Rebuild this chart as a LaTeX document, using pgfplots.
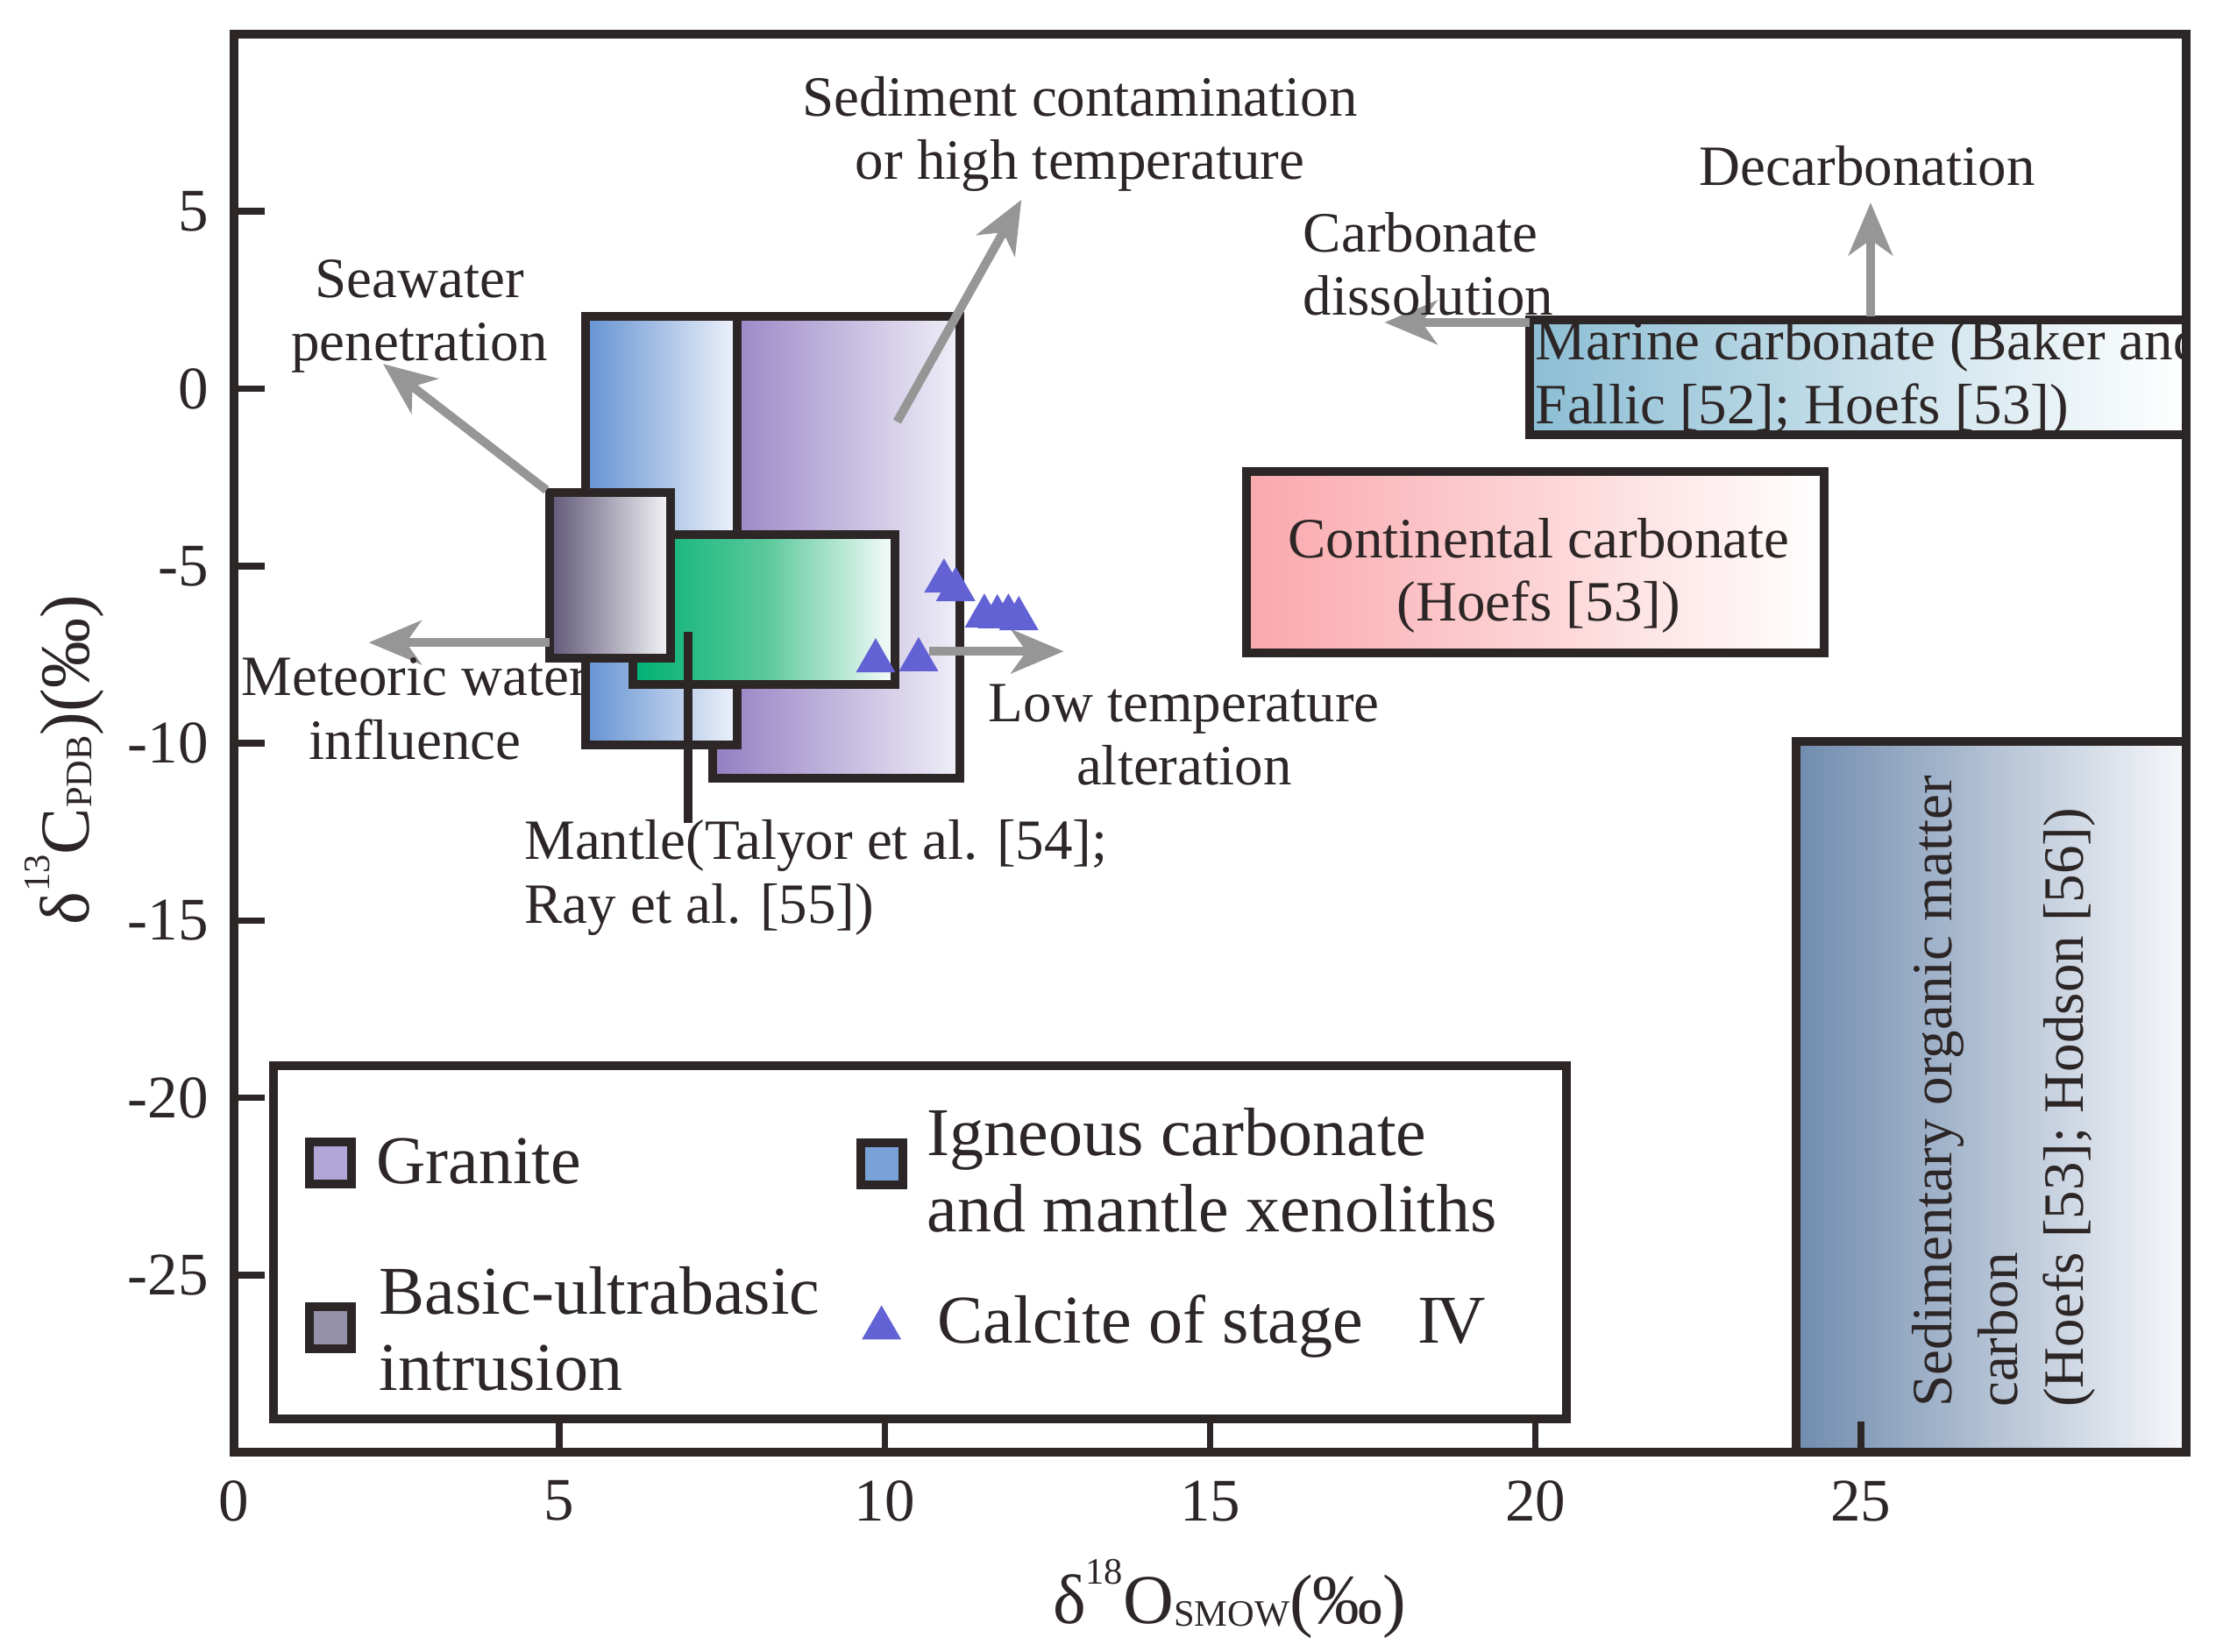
\documentclass[border=0pt]{standalone}
\usepackage{fontspec}
\setmainfont{Liberation Serif}
\usepackage{pgfplots}
\pgfplotsset{compat=1.18}
\usetikzlibrary{arrows.meta}

\definecolor{bord}{RGB}{45,38,38}
\definecolor{arr}{RGB}{150,150,150}
\definecolor{ign}{RGB}{100,146,210}
\definecolor{ignR}{RGB}{238,242,250}
\definecolor{gra}{RGB}{146,126,194}
\definecolor{graR}{RGB}{240,239,248}
\definecolor{bas}{RGB}{95,88,120}
\definecolor{basR}{RGB}{246,246,248}
\definecolor{man}{RGB}{0,176,116}
\definecolor{manR}{RGB}{248,252,252}
\definecolor{mar}{RGB}{140,190,212}
\definecolor{con}{RGB}{250,168,172}
\definecolor{sed}{RGB}{112,140,174}
\definecolor{sedR}{RGB}{246,247,250}
\definecolor{tri}{RGB}{98,98,212}
\definecolor{lgra}{RGB}{176,166,216}
\definecolor{lbas}{RGB}{150,145,170}
\definecolor{lign}{RGB}{120,162,216}

\newcommand{\fs}[2]{\fontsize{#1}{#2}\selectfont}
\newcommand{\up}[1]{\raisebox{9pt}{\fs{8.5}{8.5}#1}}
\newcommand{\dn}[1]{\raisebox{-0.6pt}{\fs{8.5}{8.5}#1}}

\tikzset{
  box/.style={draw=bord, line width=2pt, line join=miter, mark=none},
  arrow/.style={arr, line width=2pt, mark=none, -{Stealth[length=12pt, width=10pt, inset=3.5pt]}},
  note/.style={font=\fs{13}{14.5}, text=bord, align=center, inner sep=0pt},
  leg/.style={font=\fs{15.6}{17.4}, text=bord, align=left, inner sep=0pt, anchor=west},
}

\begin{document}
\begin{tikzpicture}
\begin{axis}[
  width=445.4pt, height=323.6pt, scale only axis,
  xmin=0, xmax=30, ymin=-30, ymax=10,
  axis on top,
  xtick={0,5,10,15,20,25}, xticklabels={0,5,10,15,20,25},
  ytick={-25,-20,-15,-10,-5,0,5}, yticklabels={-25,-20,-15,-10,-5,0,5},
  xtick pos=bottom, ytick pos=left,
  tick align=inside, major tick length=7pt,
  every tick/.style={bord, line width=1.5pt},
  axis line style={bord, line width=2pt},
  tick label style={font=\fs{13.8}{14}, text=bord},
  xticklabel style={yshift=-3pt},
  yticklabel style={xshift=-2.3pt},
  xlabel={δ\up{18}O\dn{SMOW}(‰)},
  ylabel={δ\up{13}C\dn{PDB})(‰)},
  x label style={at={(axis description cs:0.51,-0.1032)}, anchor=center, font=\fs{16}{16}, text=bord},
  y label style={at={(axis description cs:-0.0871,0.488)}, anchor=center, font=\fs{16}{16}, text=bord},
]

% source fields
\addplot[box, left color=gra, right color=graR] coordinates {(7.35,-11) (11.15,-11) (11.15,2.05) (7.35,2.05)} -- cycle;
\addplot[box, left color=ign, right color=ignR] coordinates {(5.4,-10.05) (7.73,-10.05) (7.73,2.05) (5.4,2.05)} -- cycle;
\addplot[box, left color=man, right color=manR, middle color={rgb,255:red,90;green,200;blue,155}] coordinates {(6.13,-8.34) (10.16,-8.34) (10.16,-4.12) (6.13,-4.12)} -- cycle;
\addplot[box, left color=bas, right color=basR] coordinates {(4.85,-7.6) (6.71,-7.6) (6.71,-2.93) (4.85,-2.93)} -- cycle;
\addplot[bord, line width=2pt, mark=none] coordinates {(6.98,-6.86) (6.98,-12.25)};

\addplot[box, left color=mar, right color=white] coordinates {(19.91,-1.3) (30,-1.3) (30,1.94) (19.91,1.94)} -- cycle;
\addplot[box, left color=con, right color=white] coordinates {(15.56,-7.45) (24.44,-7.45) (24.44,-2.34) (15.56,-2.34)} -- cycle;
\addplot[box, left color=sed, right color=sedR] coordinates {(24.0,-30) (30,-30) (30,-9.95) (24.0,-9.95)} -- cycle;

% trends
\addplot[arrow] coordinates {(4.8,-2.86) (2.29,0.70)};
\addplot[arrow] coordinates {(4.85,-7.16) (2.07,-7.16)};
\addplot[arrow] coordinates {(10.19,-0.93) (12.1,5.33)};
\addplot[arrow] coordinates {(10.68,-7.41) (12.75,-7.41)};
\addplot[arrow] coordinates {(19.91,1.87) (17.68,1.87)};
\addplot[arrow] coordinates {(25.15,2.04) (25.15,5.25)};

% calcite of stage IV
\addplot[only marks, mark=triangle*, mark size=4.8pt, color=tri] coordinates {
(10.91,-5.43) (11.09,-5.67) (11.53,-6.42) (11.73,-6.44) (11.90,-6.42) (12.06,-6.49)
(9.86,-7.68) (10.52,-7.65)};

% legend
\addplot[box, fill=white] coordinates {(0.6,-29.05) (20.48,-29.05) (20.48,-19.1) (0.6,-19.1)} -- cycle;
\addplot[only marks, mark=square*, mark size=4.8pt, mark options={draw=bord, fill=lgra, line width=2pt}] coordinates {(1.48,-21.85)};
\addplot[only marks, mark=square*, mark size=4.8pt, mark options={draw=bord, fill=lbas, line width=2pt}] coordinates {(1.48,-26.5)};
\addplot[only marks, mark=square*, mark size=4.8pt, mark options={draw=bord, fill=lign, line width=2pt}] coordinates {(9.95,-21.87)};
\addplot[only marks, mark=triangle*, mark size=4.8pt, color=tri] coordinates {(9.95,-26.5)};

\node[leg] at (axis cs:2.17,-21.8) {Granite};
\node[leg] at (axis cs:2.22,-26.52) {Basic-ultrabasic\\intrusion};
\node[leg] at (axis cs:10.64,-22.04) {Igneous carbonate\\and mantle xenoliths};
\node[leg] at (axis cs:10.8,-26.44) {Calcite of stage\hspace{0.8em}I\kern-0.06em V};

% annotations
\node[note] at (axis cs:13.0,7.18) {Sediment contamination\\or high temperature};
\node[note] at (axis cs:2.85,2.04) {Seawater\\penetration};
\node[note, align=left, anchor=west] at (axis cs:16.42,3.52) {Carbonate\\dissolution};
\node[note] at (axis cs:25.1,6.29) {Decarbonation};
\node[note] at (axis cs:2.78,-9.03) {Meteoric water\\influence};
\node[note] at (axis cs:14.6,-9.76) {Low temperature\\alteration};
\node[note, align=left, anchor=west] at (axis cs:4.45,-13.8) {Mantle(Talyor et al. [54];\\Ray et al. [55])};
\node[note] at (axis cs:20.05,-5.27) {Continental carbonate\\(Hoefs [53])};
\begin{scope}
\clip (axis cs:19.91,-1.3) rectangle (axis cs:30,1.94);
\node[note, align=left, anchor=west] at (axis cs:19.99,0.3) {Marine carbonate (Baker and\\Fallic [52]; Hoefs [53])};
\end{scope}
\node[note, align=left, anchor=west, rotate=90, font=\fs{13}{15}] at (axis cs:27.2,-28.76) {Sedimentary organic matter\\carbon\\(Hoefs [53]; Hodson [56])};
\end{axis}
\pgfresetboundingbox
\path ([shift={(-53.4pt,-45.4pt)}]current axis.south west) rectangle ([shift={(8.4pt,7.8pt)}]current axis.north east);
\end{tikzpicture}
\end{document}
